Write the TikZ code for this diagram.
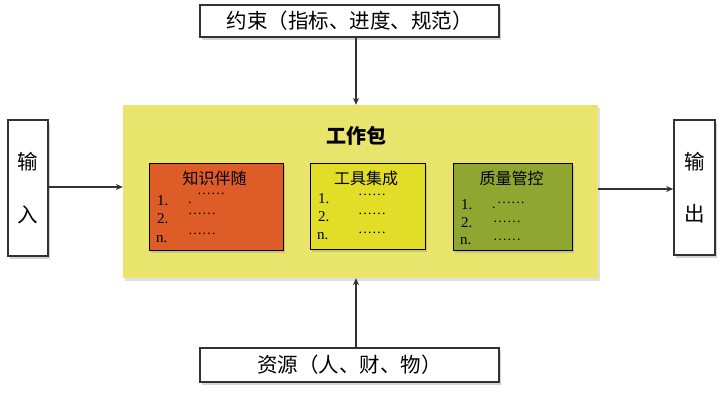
\documentclass[tikz,border=0pt]{standalone}
\usepackage{fontspec}
\setmainfont{Liberation Serif}
\newfontfamily\cjk{Noto Sans CJK SC}
\usetikzlibrary{shadows,arrows.meta}
\definecolor{bigyel}{RGB}{232,228,108}
\definecolor{kred}{RGB}{222,92,40}
\definecolor{kyel}{RGB}{226,222,40}
\definecolor{kgrn}{RGB}{143,166,48}
\definecolor{edge}{RGB}{50,50,50}
\tikzset{
  wbox/.style={draw=edge,line width=1.6pt,fill=white,drop shadow={opacity=0.35,shadow xshift=2pt,shadow yshift=-3pt},inner sep=0pt},
  kbox/.style={draw=black,line width=0.8pt,drop shadow={opacity=0.3,shadow xshift=2pt,shadow yshift=-3pt},inner sep=0pt},
  conn/.style={draw=edge,line width=1.3pt,-{Stealth[length=7pt,width=6pt]}},
  big/.style={font=\cjk\fontsize{20.5}{24}\selectfont},
  ktitle/.style={font=\cjk\fontsize{16}{19}\selectfont,text height=11pt,text depth=1pt,inner sep=0pt},
  item/.style={font=\fontsize{15}{16}\selectfont,anchor=base west,inner sep=0pt,text height=10pt,text depth=0pt},
  dots/.style={font=\fontsize{14}{16}\selectfont,anchor=base west,inner sep=0pt,text height=2pt,text depth=0pt},
}
\begin{document}
\begin{tikzpicture}[x=1pt,y=-1pt]
\useasboundingbox (0,0) rectangle (723,401);
% big work package
\node[fill=bigyel,minimum width=475pt,minimum height=173pt,inner sep=0pt,drop shadow={opacity=0.25,shadow xshift=2pt,shadow yshift=-3pt}] (wp) at (360.5,191.5) {};
\node[font=\cjk\bfseries\fontsize{20}{24}\selectfont] (wpt) at (356,136) {工作包};
% outer boxes
\node[wbox,minimum width=299pt,minimum height=32pt] (top) at (349.5,21) {};
\node[big] (topt) at (349.5,21) {约束（指标、进度、规范）};
\node[wbox,minimum width=299pt,minimum height=34pt] (bot) at (349.5,365) {};
\node[big] (bott) at (349.5,365) {资源（人、财、物）};
\node[wbox,minimum width=40pt,minimum height=136pt] (in) at (28,188) {};
\node[big] (in1) at (28,162) {输};
\node[big] (in2) at (28,215) {入};
\node[wbox,minimum width=41pt,minimum height=135pt] (out) at (694.5,187.5) {};
\node[big] (out1) at (694.5,162) {输};
\node[big] (out2) at (694.5,214) {出};
% connectors
\draw[conn] (top.south -| 356,0) -- (wp.north -| 356,0);
\draw[conn] (bot.north -| 356,0) -- (wp.south -| 356,0);
\draw[conn] (in.east |- 0,187) -- (wp.west |- 0,187);
\draw[conn] (wp.east |- 0,189) -- (out.west |- 0,189);
% inner boxes
\node[kbox,fill=kred,minimum width=134pt,minimum height=87pt] (k1) at (216,206.5) {};
\node[ktitle] (k1t) at (214.5,180) {知识伴随};
\node[item] (k1a) at (157,205) {1.};
\node[item] (k1b) at (157,223) {2.};
\node[item] (k1c) at (156,242) {n.};
\node[dots] (k1p) at (188,204) {.};
\node[dots] (k1d) at (197,194) {……};
\node[dots] (k1e) at (188,214) {……};
\node[dots] (k1f) at (188,234) {……};
\node[kbox,fill=kyel,minimum width=115pt,minimum height=86pt] (k2) at (367.5,206) {};
\node[ktitle] (k2t) at (366,180) {工具集成};
\node[item] (k2a) at (318,203) {1.};
\node[item] (k2b) at (318,221) {2.};
\node[item] (k2c) at (317,239) {n.};
\node[dots] (k2d) at (358,195) {……};
\node[dots] (k2e) at (358,214) {……};
\node[dots] (k2f) at (358,233) {……};
\node[kbox,fill=kgrn,minimum width=119pt,minimum height=87pt] (k3) at (512.5,206.5) {};
\node[ktitle] (k3t) at (511.5,179) {质量管控};
\node[item] (k3a) at (461,209) {1.};
\node[item] (k3b) at (461,227) {2.};
\node[item] (k3c) at (460,244) {n.};
\node[dots] (k3p) at (492,208) {.};
\node[dots] (k3d) at (497,203) {……};
\node[dots] (k3e) at (493,222) {……};
\node[dots] (k3f) at (493,240) {……};
\end{tikzpicture}
\end{document}
